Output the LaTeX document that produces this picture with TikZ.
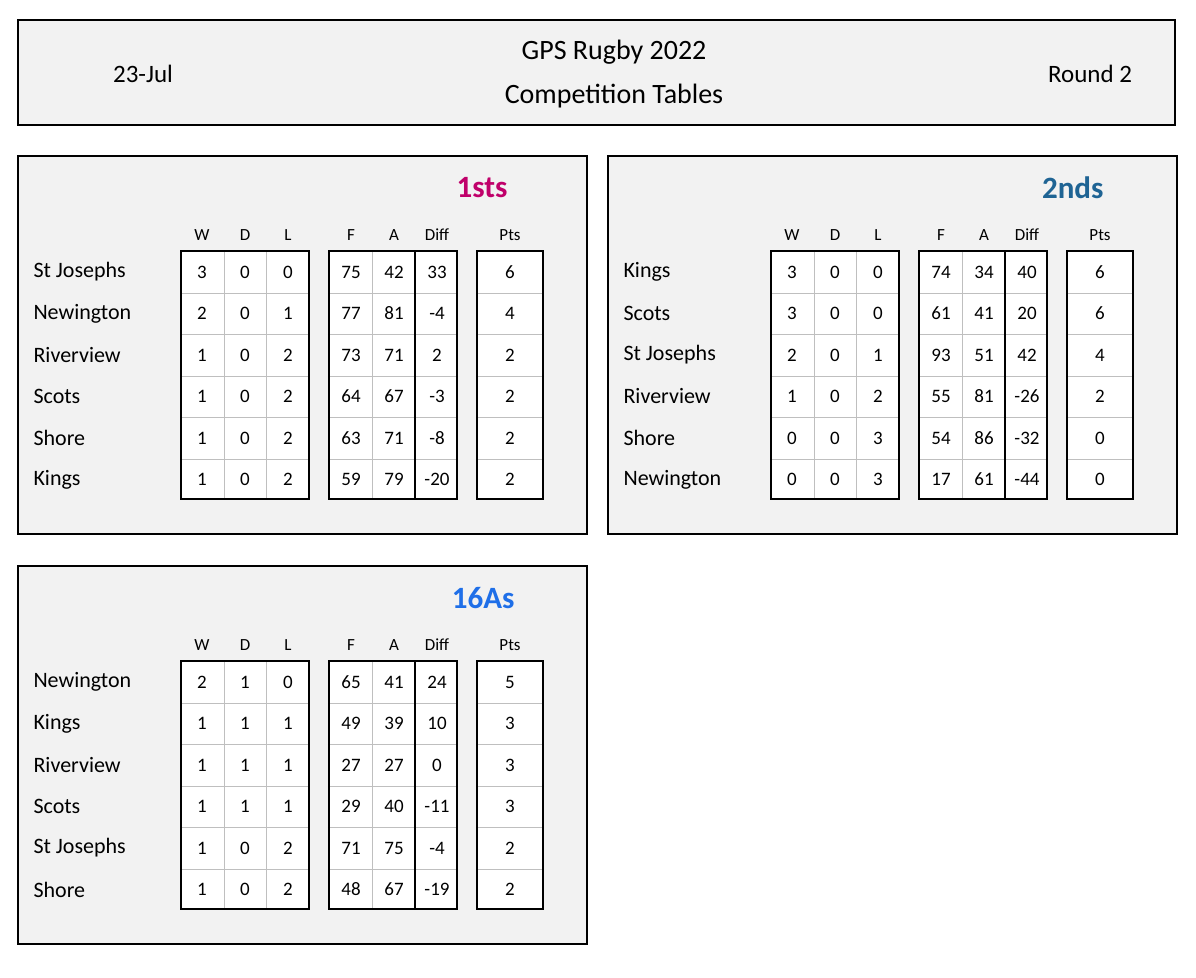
\documentclass[tikz,border=0pt]{standalone}
\usepackage{fontspec}
\setmainfont{Carlito}
\begin{document}
\begin{tikzpicture}[x=1pt,y=-1pt,
 panel/.style={draw=black,line width=2pt,fill=bg},
 thick box/.style={draw=black,line width=2.4pt},
 thin grid/.style={draw=gridc,line width=1pt},
 cell/.style={font=\fontsize{19}{20}\selectfont,anchor=center},
 hdr/.style={font=\fontsize{17}{18}\selectfont,anchor=center},
 team/.style={font=\fontsize{22}{24}\selectfont,anchor=west}]
\definecolor{bg}{HTML}{F2F2F2}
\definecolor{gridc}{HTML}{BFBFBF}
\definecolor{cA}{HTML}{C0006A}
\definecolor{cB}{HTML}{1F6494}
\definecolor{cC}{HTML}{1F6FE8}
\useasboundingbox (0,0) rectangle (1196,977);
\fill[white] (0,0) rectangle (1196,977);
\draw[panel] (18,20) rectangle (1175,125);
\node[font=\fontsize{28}{30}\selectfont] (ttl1) at (614,52) {GPS Rugby 2022};
\node[font=\fontsize{28}{30}\selectfont] (ttl2) at (614,96) {Competition Tables};
\node[font=\fontsize{25}{27}\selectfont] (date) at (143,74) {23-Jul};
\node[font=\fontsize{25}{27}\selectfont] (round) at (1090,74) {Round 2};
% generic table macro
\newcommand{\comptable}[6]{% #1 dx, #2 dy, #3 title, #4 colour, #5 right x of title, #6 rows
 \begin{scope}[shift={(#1,#2)}]
 \draw[panel] (18,156) rectangle (587,534);
 \node[font=\bfseries\fontsize{31}{33}\selectfont,text=#4,anchor=east] (t#3) at (#5,188) {#3};
 \fill[white] (181,251) rectangle (309,499);
 \fill[white] (329,251) rectangle (457,499);
 \fill[white] (477,251) rectangle (543,499);
 \foreach \y in {293,334,376,417,459}{
   \draw[thin grid] (181,\y) -- (309,\y);
   \draw[thin grid] (329,\y) -- (457,\y);
   \draw[thin grid] (477,\y) -- (543,\y);}
 \foreach \x in {224,266,372} \draw[thin grid] (\x,251) -- (\x,499);
 \draw[thick box] (181,251) rectangle (309,499);
 \draw[thick box] (329,251) rectangle (457,499);
 \draw[thick box] (477,251) rectangle (543,499);
 \draw[black,line width=2pt] (415,251) -- (415,499);
 \foreach \h/\x in {W/202,D/245,L/288,F/351,A/394,Diff/437,Pts/510}
   \node[hdr] at (\x,235) {\h};
 \foreach [count=\i] \n/\w/\d/\l/\f/\a/\df/\p in {#6}{
   \pgfmathsetmacro{\yy}{272+(\i-1)*41.5}
   \node[team] at (30,\yy) {\n};
   \node[cell] at (202,\yy) {\w};
   \node[cell] at (245,\yy) {\d};
   \node[cell] at (288,\yy) {\l};
   \node[cell] at (351,\yy) {\f};
   \node[cell] at (394,\yy) {\a};
   \node[cell] at (437,\yy) {\df};
   \node[cell] at (510,\yy) {\p};}
 \end{scope}}
\comptable{0}{0}{1sts}{cA}{511}{St Josephs/3/0/0/75/42/33/6,Newington/2/0/1/77/81/-4/4,Riverview/1/0/2/73/71/2/2,Scots/1/0/2/64/67/-3/2,Shore/1/0/2/63/71/-8/2,Kings/1/0/2/59/79/-20/2}
\comptable{590}{0}{2nds}{cB}{517}{Kings/3/0/0/74/34/40/6,Scots/3/0/0/61/41/20/6,St Josephs/2/0/1/93/51/42/4,Riverview/1/0/2/55/81/-26/2,Shore/0/0/3/54/86/-32/0,Newington/0/0/3/17/61/-44/0}
\comptable{0}{410}{16As}{cC}{518}{Newington/2/1/0/65/41/24/5,Kings/1/1/1/49/39/10/3,Riverview/1/1/1/27/27/0/3,Scots/1/1/1/29/40/-11/3,St Josephs/1/0/2/71/75/-4/2,Shore/1/0/2/48/67/-19/2}
\end{tikzpicture}
\end{document}
